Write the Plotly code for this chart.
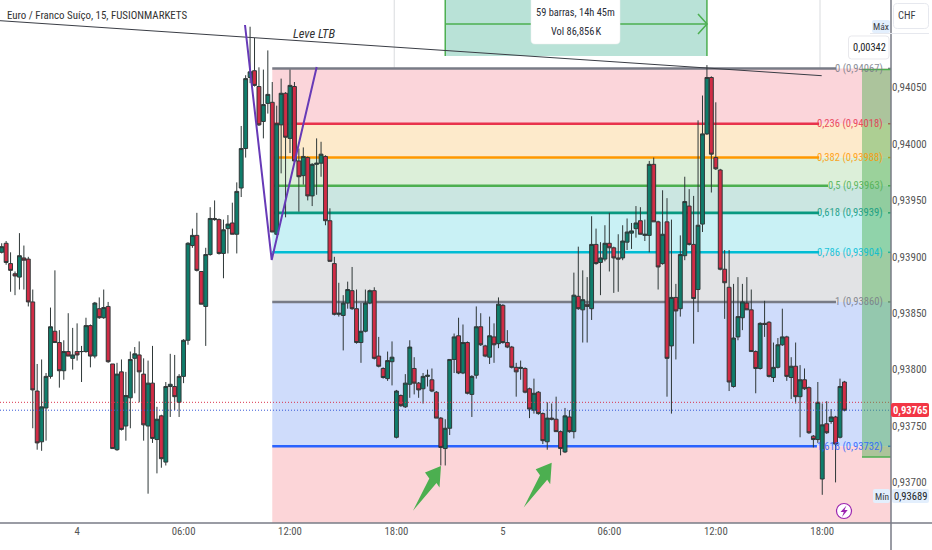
import plotly.graph_objects as go

# Prices are quoted in 1e-5 CHF points (0.93904 -> 93904)
open_pts = [
93904,93912,93894,93885,93882,93899,93898,93860,93781,93736,
93766,93794,93834,93824,93799,93816,93810,93816,93816,93816,
93839,93812,93854,93846,93856,93805,93729,93798,93750,93775,
93810,93813,93796,93750,93788,93738,93759,93718,93785,93785,
93771,93794,93826,93910,93919,93887,93856,93902,93934,93933,
93903,93925,93930,93920,93961,93996,94059,94065,94051,94020,
94036,94037,93920,94017,94045,94005,94051,93985,93972,93988,
93954,93982,93983,93989,93932,93894,93849,93848,93859,93870,
93854,93824,93834,93859,93870,93812,93801,93792,93807,93740,
93777,93767,93787,93801,93788,93783,93794,93791,93780,93757,
93730,93748,93809,93830,93797,93824,93778,93795,93838,93821,
93811,93829,93823,93857,93824,93820,93802,93801,93801,93783,
93764,93780,93761,93736,93757,93756,93745,93727,93758,93745,
93865,93853,93858,93854,93911,93895,93898,93912,93908,93899,
93899,93913,93921,93925,93932,93919,93919,93982,93931,93894,
93931,93821,93864,93854,93901,93945,93911,93871,93929,94009,
94059,93988,93977,93889,93873,93785,93829,93846,93859,93853,
93816,93801,93841,93842,93793,93802,93822,93829,93793,93803,
93776,93791,93784,93741,93738,93703,93752,93754,93758,93740,93789]
high_pts = [
93912,93914,93904,93887,93921,93910,93900,93871,93805,93809,
93797,93855,93888,93835,93826,93850,93837,93841,93821,93846,
93840,93860,93864,93871,93860,93805,93806,93809,93798,93816,
93820,93825,93810,93808,93821,93767,93760,93789,93814,93813,
93796,93827,93913,93925,93939,93887,93908,93944,93950,93934,
93933,93937,93948,93966,94016,94061,94104,94094,94068,94066,
94083,94055,94034,94058,94046,94066,94055,93996,93997,93989,
93983,94005,94002,93990,93943,93900,93877,93866,93878,93891,
93871,93859,93871,93871,93873,93829,93802,93816,93825,93782,
93778,93796,93826,93811,93789,93797,93800,93801,93781,93758,
93756,93809,93832,93846,93840,93825,93795,93856,93850,93822,
93847,93841,93864,93858,93835,93821,93806,93808,93802,93784,
93792,93781,93762,93771,93770,93776,93746,93766,93764,93886,
93909,93888,93882,93936,93925,93913,93928,93939,93909,93920,
93928,93934,93930,93945,93944,93933,93985,93988,93932,93959,
93952,93933,93876,93919,93971,93960,93954,94021,94043,94070,
94060,94037,93978,93906,93906,93876,93882,93876,93882,93871,
93817,93842,93861,93843,93824,93828,93854,93830,93811,93824,
93804,93801,93785,93742,93789,93770,93772,93765,93759,93792,93790]
low_pts = [
93903,93893,93869,93866,93871,93871,93856,93748,93729,93728,
93737,93792,93824,93784,93791,93812,93800,93808,93789,93815,
93802,93810,93845,93845,93806,93730,93728,93746,93737,93748,
93779,93771,93737,93690,93735,93708,93713,93715,93758,93764,
93758,93788,93822,93908,93887,93858,93821,93901,93932,93902,
93881,93903,93920,93903,93953,93988,94054,94051,94016,94005,
94027,93922,93919,93974,93935,93992,93984,93940,93964,93950,
93945,93955,93971,93928,93896,93848,93847,93817,93854,93853,
93823,93806,93833,93858,93809,93802,93792,93790,93786,93739,
93767,93766,93775,93778,93775,93770,93785,93780,93757,93715,
93715,93742,93797,93796,93796,93778,93758,93792,93821,93811,
93805,93806,93819,93823,93819,93801,93776,93791,93779,93757,
93761,93760,93734,93729,93755,93745,93724,93726,93744,93739,
93853,93824,93824,93844,93893,93866,93896,93887,93868,93869,
93897,93906,93907,93917,93920,93914,93904,93931,93871,93893,
93776,93761,93809,93847,93897,93910,93823,93851,93922,94008,
93957,93977,93888,93845,93781,93784,93826,93835,93853,93816,
93779,93800,93829,93793,93789,93801,93821,93790,93774,93770,
93740,93782,93743,93731,93735,93689,93743,93752,93700,93739,93763]
close_pts = [
93909,93895,93888,93883,93901,93897,93860,93782,93735,93767,
93794,93838,93824,93799,93816,93812,93813,93813,93816,93839,
93812,93859,93846,93855,93807,93730,93796,93747,93777,93809,
93814,93798,93751,93788,93739,93756,93721,93785,93787,93776,
93794,93826,93912,93919,93888,93858,93902,93934,93933,93903,
93924,93929,93920,93958,93996,94058,94064,94052,94017,94035,
94044,93922,94018,94045,94006,94052,93985,93971,93989,93954,
93982,93983,93991,93932,93896,93849,93850,93859,93871,93854,
93824,93834,93859,93870,93810,93803,93793,93808,93811,93781,
93768,93788,93820,93788,93782,93794,93795,93781,93757,93731,
93748,93809,93829,93797,93824,93779,93794,93838,93822,93812,
93830,93822,93858,93824,93820,93802,93798,93802,93780,93765,
93779,93761,93737,93757,93756,93745,93730,93759,93745,93866,
93854,93862,93856,93911,93894,93899,93912,93908,93899,93898,
93914,93922,93923,93930,93920,93920,93982,93931,93891,93920,
93810,93864,93852,93902,93949,93911,93863,93928,94009,94059,
93991,93978,93889,93877,93789,93828,93847,93860,93853,93816,
93801,93841,93840,93794,93802,93822,93829,93794,93803,93776,
93791,93783,93744,93738,93771,93751,93744,93758,93734,93785,93764]

tick_bars = [17, 41, 65, 89, 113, 137, 161, 185]
tick_labels = ["4", "06:00", "12:00", "18:00", "5", "06:00", "12:00", "18:00"]
price_ticks = [0.937, 0.9375, 0.938, 0.9385, 0.939, 0.9395, 0.94, 0.9405]

fib_ratios = ["0", "0,236", "0,382", "0,5", "0,618", "0,786", "1", "1,618"]
fib_prices = [0.94067, 0.94018, 0.93988, 0.93963, 0.93939, 0.93904, 0.93860, 0.93732]
fib_texts = ["0,94067", "0,94018", "0,93988", "0,93963", "0,93939", "0,93904", "0,93860", "0,93732"]
fib_colors = ["#787b86", "#e8334c", "#ff9800", "#4caf50", "#089981", "#00bcd4", "#787b86", "#2962ff"]
fib_bands = ["#fbd5da", "#fdeacb", "#dcefd9", "#cbe6e1", "#c9f1f5", "#e2e3e5", "#cfdcfb"]
below_band = "#fcd5d8"
fib_line_end = [188.1, 184.3, 184.3, 186.3, 184.3, 184.3, 188.1, 183.8]

fib_start_bar = 61
range_start_bar = 100
range_end_bar = 159
grid_bars = [88.5, 184.5]
last_price = 0.93771
prev_price = 0.93764

FONT = "Liberation Sans Narrow, Roboto Condensed, Arial Narrow, sans-serif"
W, H = 932, 550
PANE_W, PANE_H = 891, 523
XR = [-0.383, 200.5]
YR = [0.93664, 0.941277]

opens = [v / 1e5 for v in open_pts]
highs = [v / 1e5 for v in high_pts]
lows = [v / 1e5 for v in low_pts]
closes = [v / 1e5 for v in close_pts]
bars = list(range(len(opens)))


def px(x):
    return x / PANE_W


def py(y):
    return 1 - y / PANE_H


def path(points, close=True):
    s = "M " + " L ".join(f"{px(a):.5f},{py(b):.5f}" for a, b in points)
    return s + (" Z" if close else "")


def round_rect(x0, y0, x1, y1, r=3):
    return (f"M {px(x0+r):.5f},{py(y0):.5f} L {px(x1-r):.5f},{py(y0):.5f} "
            f"Q {px(x1):.5f},{py(y0):.5f} {px(x1):.5f},{py(y0+r):.5f} "
            f"L {px(x1):.5f},{py(y1-r):.5f} Q {px(x1):.5f},{py(y1):.5f} {px(x1-r):.5f},{py(y1):.5f} "
            f"L {px(x0+r):.5f},{py(y1):.5f} Q {px(x0):.5f},{py(y1):.5f} {px(x0):.5f},{py(y1-r):.5f} "
            f"L {px(x0):.5f},{py(y0+r):.5f} Q {px(x0):.5f},{py(y0):.5f} {px(x0+r):.5f},{py(y0):.5f} Z")


shapes = []
ann = []


def pshape(d, fill="rgba(0,0,0,0)", line=None, width=0, layer="above"):
    shapes.append(dict(type="path", xref="paper", yref="paper", path=d, fillcolor=fill,
                       line=dict(color=line or "rgba(0,0,0,0)", width=width), layer=layer))


def text(x, y, s, color="#444", size=11, anchor="center", **kw):
    ann.append(dict(xref="paper", yref="paper", x=px(x), y=py(y), text=s, showarrow=False,
                    xanchor=anchor, yanchor="middle", borderpad=0, align=anchor,
                    font=dict(family=FONT, size=size, color=color), **kw))


# Fibonacci bands and lines
tops = fib_prices[:-1]
bots = fib_prices[1:]
for t, b, c in zip(tops, bots, fib_bands):
    shapes.append(dict(type="rect", xref="x", yref="y", x0=fib_start_bar, x1=XR[1], y0=b, y1=t,
                       fillcolor=c, line_width=0, layer="below"))
shapes.append(dict(type="rect", xref="x", yref="y", x0=fib_start_bar, x1=XR[1], y0=YR[0], y1=fib_prices[-1],
                   fillcolor=below_band, line_width=0, layer="below"))
for gb in grid_bars:
    shapes.append(dict(type="line", xref="x", yref="paper", x0=gb, x1=gb, y0=0, y1=1,
                       line=dict(color="rgba(120,125,135,0.28)", width=1), layer="below"))
for p, c, e in zip(fib_prices, fib_colors, fib_line_end):
    shapes.append(dict(type="line", xref="x", yref="y", x0=fib_start_bar, x1=e, y0=p, y1=p,
                       line=dict(color=c, width=2.6), layer="below"))
    shapes.append(dict(type="line", xref="paper", yref="y", x0=px(888), x1=1, y0=p, y1=p,
                       line=dict(color=c, width=1.5)))
for r, p, t, c in zip(fib_ratios, fib_prices, fib_texts, fib_colors):
    ann.append(dict(xref="paper", yref="y", x=px(885), y=p, text=f"{r} ({t})", showarrow=False,
                    xanchor="right", yanchor="middle", opacity=0.85,
                    font=dict(family=FONT, size=10.6, color=c)))

# Dotted price lines
for p, c in ((last_price, "#d9324a"), (prev_price, "#3557d6")):
    shapes.append(dict(type="line", xref="paper", yref="y", x0=0, x1=1, y0=p, y1=p,
                       line=dict(color=c, width=1, dash="1px,2px"), layer="above"))

# Date/price range tool at the top
shapes.append(dict(type="rect", xref="x", yref="paper", x0=range_start_bar, x1=range_end_bar,
                   y0=py(56), y1=1, fillcolor="#b9e2d7", line_width=0, layer="below"))
for b in (range_start_bar, range_end_bar):
    shapes.append(dict(type="line", xref="x", yref="paper", x0=b, x1=b, y0=py(56), y1=1,
                       line=dict(color="#4caf50", width=1.5)))
pshape(path([(445, 24), (707, 24)], False), line="#4caf50", width=1.5)
pshape(path([(698, 14), (707, 24), (698, 34)], False), line="#4caf50", width=1.5)
pshape(round_rect(531, -4, 620, 44, 4), fill="#ffffff", line="#eeeeee", width=0.5)
text(575.5, 12, "59 barras, 14h 45m", color="#2a2e39", size=10.4)
text(575.5, 31, "Vol 86,856\u202fK", color="#2a2e39", size=10.4)

# Green price range column
pshape(path([(862, 69), (891, 69), (891, 457), (862, 457)]), fill="rgba(76,175,80,0.45)")
pshape(path([(862, 69.5), (891, 69.5)], False), line="#4caf50", width=1.5)
pshape(path([(862, 457), (891, 457)], False), line="#4caf50", width=1.5)

# Trend lines
pshape(path([(0, 20.7), (821.7, 75.7)], False), line="#3a3d45", width=1)
pshape(path([(245, 25), (271.7, 260), (316.7, 67)], False), line="#673ab7", width=2)
text(314, 33, "<i>Leve LTB</i>", color="#333", size=12.5)

# Green arrows
for (ox, oy) in ((0, 0), (110.7, -3.3)):
    pts = [(413, 510.7), (429.3, 478.5), (425, 472.5), (441, 466), (439.5, 487.5), (436.5, 483), (413, 510.7)]
    pshape(path([(a + ox, b + oy) for a, b in pts]), fill="#4caf50")

# Title
text(6, 16, "Euro / Franco Suíço, 15, FUSIONMARKETS", color="#333", size=10.9, anchor="left")

# Right scale furniture
shapes.append(dict(type="line", xref="paper", yref="paper", x0=1, x1=1, y0=py(550), y1=1,
                   line=dict(color="#787b86", width=1.5)))
shapes.append(dict(type="line", xref="paper", yref="paper", x0=0, x1=px(932), y0=0, y1=0,
                   line=dict(color="#787b86", width=1.5)))
pshape(path([(870, 33.5), (929, 33.5)], False), line="#e6e8ee", width=1)
pshape(round_rect(893.5, 3.5, 928.5, 28.5, 4), fill="#ffffff", line="#e6e8ee", width=1)
text(907, 16, "CHF", color="#3a3d45", size=10.5)
pshape(round_rect(872, 20, 890, 33, 2), fill="#e3effd")
text(881, 27, "Máx", color="#3a3d45", size=9.5)
pshape(round_rect(848.5, 36, 889, 59, 3), fill="#ffffff", line="#e8e8ec", width=1)
text(869, 48, "0,00342", color="#1c1e26", size=10.4)
pshape(round_rect(873, 489, 890, 503, 2), fill="#e3effd")
text(881.5, 496, "Mín", color="#3a3d45", size=9.5)
pshape(round_rect(892, 489, 929, 503, 2), fill="#e3effd")
text(911, 496, "0,93689", color="#1c1e26", size=10.6)
pshape(round_rect(891, 403, 929, 417, 2), fill="#f23645")
text(910.5, 410, "<b>0,93765</b>", color="#ffffff", size=10.6)

# Lightning badge
shapes.append(dict(type="circle", xref="paper", yref="paper", x0=px(836.5), x1=px(851.5), y0=py(518.5), y1=py(503.5),
                   fillcolor="#ffffff", line=dict(color="#9c27b0", width=1.2)))
pshape(path([(846.5, 505.5), (840.5, 512), (843.8, 512), (842, 517), (847.7, 510), (844.5, 510)]), fill="#9c27b0")

fig = go.Figure(go.Candlestick(
    x=bars, open=opens, high=highs, low=lows, close=closes,
    increasing=dict(fillcolor="#0f7d6b", line=dict(color="#2f3838", width=1)),
    decreasing=dict(fillcolor="#d12c46", line=dict(color="#2f3838", width=1)),
    whiskerwidth=0, showlegend=False, hoverinfo="skip",
))
fig.update_layout(
    width=W, height=H, autosize=False,
    margin=dict(l=0, r=W - PANE_W, t=0, b=H - PANE_H, pad=0),
    paper_bgcolor="#ffffff", plot_bgcolor="#ffffff",
    separators=",.", showlegend=False,
    font=dict(family=FONT, size=11, color="#555"),
    shapes=shapes, annotations=ann, boxgap=0.13, boxgroupgap=0,
    xaxis=dict(range=XR, tickmode="array", tickvals=tick_bars, ticktext=tick_labels,
               showgrid=False, zeroline=False, showline=False, rangeslider=dict(visible=False),
               ticks="", tickfont=dict(family=FONT, size=10.8, color="#555")),
    yaxis=dict(range=YR, side="right", tickmode="array", tickvals=price_ticks, tickformat=".5f",
               showgrid=False, zeroline=False, showline=False, ticks="",
               tickfont=dict(family=FONT, size=11, color="#555")),
)
fig.write_html("out.html", config={"displayModeBar": False},
               post_script="document.body.style.margin='0';document.body.style.background='#fff';")
